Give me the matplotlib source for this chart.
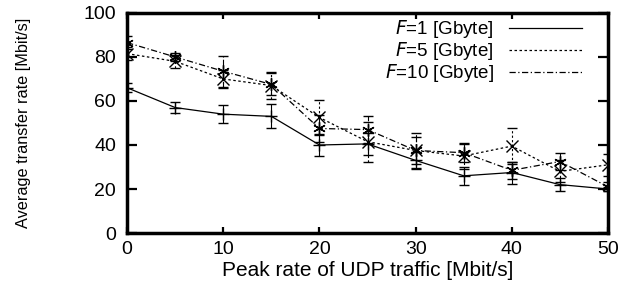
import matplotlib
matplotlib.use('Agg')
import matplotlib.pyplot as plt
from matplotlib.lines import Line2D

plt.rcParams['font.family'] = ['Liberation Sans', 'DejaVu Sans']

# peak rate of UDP traffic [Mbit/s]
udp_rate = [0, 5, 10, 15, 20, 25, 30, 35, 40, 45, 50]

# average transfer rate [Mbit/s] and error half-widths
f1_rate = [66, 57, 54, 53, 40, 40.5, 33, 26, 27.5, 22, 20]
f1_err = [2, 2.5, 4, 5.5, 5, 5, 4, 4, 5, 3, 1]
f5_rate = [81.5, 78, 70, 67, 52.5, 41.5, 37.5, 35, 39.5, 28, 31]
f5_err = [3, 3, 4, 6, 8, 9, 8, 6, 8, 5, 5]
f10_rate = [86.5, 80, 73.5, 67.5, 47.5, 47, 37.5, 36.5, 28.5, 32.5, 21]
f10_err = [3, 2, 7, 5, 6, 6, 6, 4, 4, 4, 2]

labels = ['$F$=1 [Gbyte]', '$F$=5 [Gbyte]', '$F$=10 [Gbyte]']

fig = plt.figure(figsize=(6.42, 2.87), dpi=100)
ax = fig.add_axes([0.198, 0.188, 0.749, 0.767])

series = [
    (f1_rate, f1_err, '-', '+'),
    (f5_rate, f5_err, (0, (2, 2)), 'x'),
    (f10_rate, f10_err, (0, (5, 2, 1, 2)), (6, 2, 0)),
]
handles = []
for (vals, errs, ls, mk), lab in zip(series, labels):
    cont = ax.errorbar(udp_rate, vals, yerr=errs, color='black', lw=0.9,
                       linestyle=ls, marker=mk, markersize=9, mew=1.0,
                       capsize=3.5, elinewidth=0.8, capthick=0.8)
    for bl in cont[2]:
        bl.set_linestyle(ls)
    handles.append(Line2D([], [], color='black', lw=0.9, linestyle=ls))

ax.set_xlim(0, 50)
ax.set_ylim(0, 100)
ax.set_xticks(range(0, 51, 10))
ax.set_yticks(range(0, 101, 20))
ax.tick_params(direction='in', width=1.6, top=True, right=True, labelsize=14)
ax.tick_params(axis='x', length=4, pad=6)
ax.tick_params(axis='y', length=7.5, pad=8)
for sp in ax.spines.values():
    sp.set_linewidth(2.5)

ax.set_xlabel('Peak rate of UDP traffic [Mbit/s]', fontsize=15, labelpad=2)
ax.set_ylabel('Average transfer rate [Mbit/s]', fontsize=11.7, labelpad=38)

ax.legend(handles, labels, loc='upper right', frameon=False, markerfirst=False,
          fontsize=13.5, handlelength=3.9, labelspacing=0.0, borderaxespad=0,
          handletextpad=0.8, borderpad=0.1, bbox_to_anchor=(0.95, 0.985))

fig.savefig('out.png', dpi=100)
